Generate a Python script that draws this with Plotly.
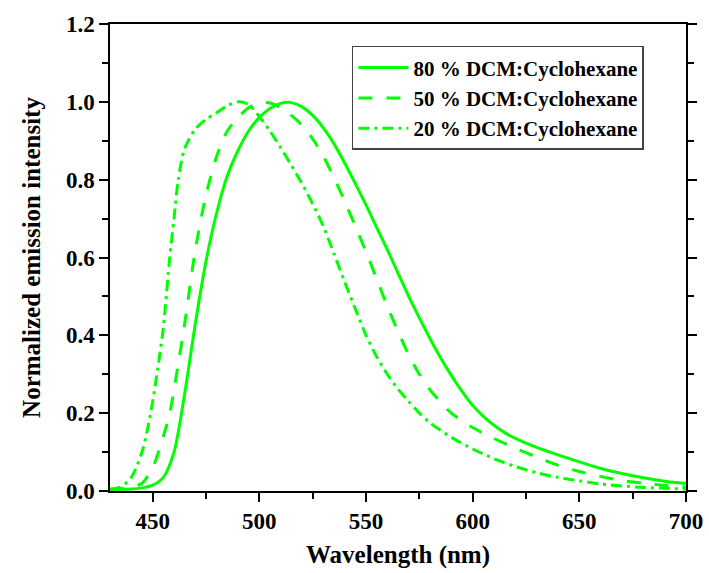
import plotly.graph_objects as go

# Emission spectra (normalized) in three DCM:cyclohexane mixtures
wl_80 = [430, 440, 445, 450, 455, 460, 465, 470, 475, 480, 485, 490, 495, 500, 505,
         510, 515, 520, 525, 530, 535, 540, 545, 550, 555, 560, 565, 570, 575, 580,
         585, 590, 595, 600, 605, 610, 615, 620, 630, 640, 650, 660, 670, 680, 690, 700]
int_80 = [0.004, 0.005, 0.008, 0.015, 0.035, 0.10, 0.25, 0.43, 0.59, 0.715, 0.81, 0.875,
          0.925, 0.96, 0.983, 0.996, 0.998, 0.987, 0.965, 0.933, 0.892, 0.843, 0.79,
          0.735, 0.677, 0.62, 0.56, 0.50, 0.445, 0.392, 0.342, 0.297, 0.256, 0.22, 0.192,
          0.169, 0.15, 0.135, 0.112, 0.093, 0.075, 0.058, 0.045, 0.034, 0.025, 0.019]

wl_50 = [430, 435, 440, 445, 450, 455, 458, 460, 465, 470, 475, 480, 485, 490, 495,
         500, 505, 510, 515, 520, 525, 530, 535, 540, 545, 550, 555, 560, 565, 570,
         575, 580, 585, 590, 600, 610, 620, 630, 640, 650, 660, 670, 680, 690, 700]
int_50 = [0.004, 0.006, 0.01, 0.02, 0.06, 0.14, 0.2, 0.26, 0.43, 0.62, 0.76, 0.86,
          0.925, 0.96, 0.985, 0.998, 0.997, 0.985, 0.965, 0.94, 0.905, 0.86, 0.805,
          0.745, 0.68, 0.615, 0.545, 0.475, 0.41, 0.35, 0.30, 0.26, 0.228, 0.20,
          0.163, 0.135, 0.11, 0.087, 0.066, 0.05, 0.037, 0.027, 0.02, 0.014, 0.01]

wl_20 = [430, 435, 440, 445, 448, 450, 452, 455, 458, 460, 462, 465, 470, 475, 480,
         485, 490, 495, 500, 505, 510, 515, 520, 525, 530, 535, 540, 545, 550, 555,
         560, 565, 570, 575, 580, 590, 600, 610, 620, 630, 640, 650, 660, 670, 680,
         690, 700]
int_20 = [0.005, 0.01, 0.035, 0.10, 0.17, 0.23, 0.30, 0.42, 0.60, 0.70, 0.80, 0.88,
          0.93, 0.955, 0.972, 0.99, 1.0, 0.993, 0.962, 0.925, 0.882, 0.837, 0.79, 0.738,
          0.68, 0.61, 0.537, 0.468, 0.40, 0.345, 0.30, 0.262, 0.23, 0.20, 0.175, 0.138,
          0.108, 0.083, 0.063, 0.047, 0.035, 0.026, 0.018, 0.013, 0.009, 0.007, 0.005]

series = [
    ("80 % DCM:Cyclohexane", wl_80, int_80, "solid"),
    ("50 % DCM:Cyclohexane", wl_50, int_50, "14px,14px"),
    ("20 % DCM:Cyclohexane", wl_20, int_20, "11px,5px,3px,5px"),
]

GREEN = "#00FF00"
FONT = "Liberation Serif"

fig = go.Figure()
for name, x, y, dash in series:
    fig.add_trace(go.Scatter(
        x=x, y=y, mode="lines", name=name,
        line=dict(color=GREEN, width=3, dash=dash, shape="spline", smoothing=0.8),
    ))

axis_common = dict(
    showline=True, linecolor="black", linewidth=1.5,
    ticks="outside", ticklen=9, tickwidth=1.5, tickcolor="black",
    showgrid=False, zeroline=False, automargin=False,
    tickfont=dict(family=FONT, size=23, color="black", weight="bold"),
)

fig.update_xaxes(
    range=[430, 700], tickvals=[450, 500, 550, 600, 650, 700],
    minor=dict(dtick=25, tick0=450, ticks="outside", ticklen=6, tickwidth=1.5,
               tickcolor="black"),
    mirror=True,
    title=dict(text="Wavelength (nm)", standoff=12,
               font=dict(family=FONT, size=25, color="black", weight="bold")),
    **axis_common,
)
fig.update_yaxes(
    range=[0, 1.2], dtick=0.2, tickformat=".1f",
    minor=dict(dtick=0.1, ticks="outside", ticklen=6, tickwidth=1.5,
               tickcolor="black"),
    mirror="ticks",
    title=dict(text="Normalized emission intensity", standoff=18,
               font=dict(family=FONT, size=25, color="black", weight="bold")),
    **axis_common,
)

fig.update_layout(
    width=709, height=573,
    margin=dict(l=110, r=23, t=24, b=82),
    plot_bgcolor="white", paper_bgcolor="white",
    legend=dict(
        x=0.42, y=0.953, xanchor="left", yanchor="top",
        bordercolor="#444", borderwidth=1.5, bgcolor="white",
        font=dict(family=FONT, size=21, color="black", weight="bold"),
        itemwidth=50, tracegroupgap=0,
    ),
)

fig.write_html("out.html")
